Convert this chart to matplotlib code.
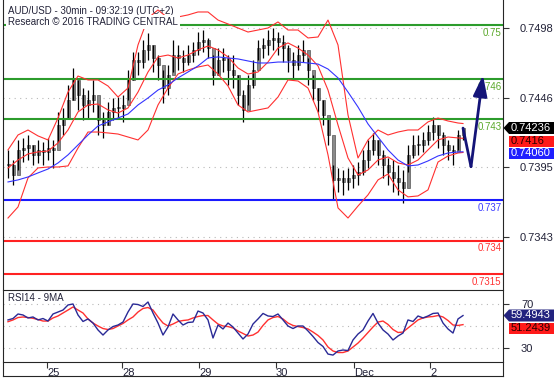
import numpy as np
import matplotlib
matplotlib.use('Agg')
import matplotlib.pyplot as plt
from matplotlib.lines import Line2D
from matplotlib.patches import Rectangle, Polygon
from matplotlib.transforms import blended_transform_factory

plt.rcParams['font.family'] = ['Liberation Sans', 'DejaVu Sans']

# --- price bars (30min AUD/USD, sampled) ---
highs = [0.74074, 0.73999, 0.74148, 0.74163, 0.74185, 0.74111, 0.74148, 0.74133, 0.74163, 0.74148,
         0.74356, 0.74386, 0.74557, 0.74683, 0.74594, 0.74534, 0.74519, 0.74594, 0.74408, 0.74356,
         0.74430, 0.74460, 0.74467, 0.74482, 0.74668, 0.74802, 0.74802, 0.74891, 0.74943, 0.74854,
         0.74779, 0.74668, 0.74705, 0.74891, 0.74854, 0.74817, 0.74854, 0.74876, 0.74950, 0.74965,
         0.74906, 0.74779, 0.74831, 0.74831, 0.74779, 0.74779, 0.74631, 0.74519, 0.74631, 0.74742,
         0.74891, 0.74906, 0.74965, 0.74980, 0.74950, 0.74928, 0.74854, 0.74802, 0.74854, 0.74891,
         0.74757, 0.74631, 0.74534, 0.74445, 0.74311, 0.73962, 0.73940, 0.73925, 0.73940, 0.73962,
         0.73984, 0.74074, 0.74148, 0.74200, 0.74148, 0.74074, 0.74014, 0.73999, 0.73962, 0.73925,
         0.74111, 0.74185, 0.74185, 0.74207, 0.74259, 0.74319, 0.74259, 0.74207, 0.74148, 0.74111,
         0.74222, 0.74244]
lows = [0.73866, 0.73814, 0.73925, 0.73984, 0.73999, 0.73962, 0.73977, 0.73962, 0.73999, 0.73940,
        0.74133, 0.74185, 0.74311, 0.74445, 0.74371, 0.74297, 0.74311, 0.74356, 0.74185, 0.74163,
        0.74259, 0.74297, 0.74311, 0.74282, 0.74445, 0.74594, 0.74631, 0.74683, 0.74742, 0.74653,
        0.74594, 0.74423, 0.74482, 0.74653, 0.74668, 0.74653, 0.74705, 0.74727, 0.74779, 0.74802,
        0.74757, 0.74557, 0.74631, 0.74653, 0.74557, 0.74534, 0.74408, 0.74282, 0.74408, 0.74534,
        0.74742, 0.74757, 0.74779, 0.74817, 0.74779, 0.74727, 0.74653, 0.74594, 0.74668, 0.74727,
        0.74557, 0.74445, 0.74356, 0.74259, 0.74111, 0.73702, 0.73762, 0.73739, 0.73777, 0.73791,
        0.73814, 0.73888, 0.73940, 0.74037, 0.73962, 0.73866, 0.73814, 0.73762, 0.73739, 0.73680,
        0.73910, 0.74014, 0.74037, 0.74059, 0.74111, 0.74148, 0.74088, 0.74037, 0.73999, 0.73962,
        0.74074, 0.74148]
closes = [0.73962, 0.73888, 0.74074, 0.74088, 0.74111, 0.74037, 0.74074, 0.74059, 0.74088, 0.74074,
          0.74259, 0.74311, 0.74445, 0.74594, 0.74482, 0.74408, 0.74445, 0.74482, 0.74297, 0.74259,
          0.74356, 0.74386, 0.74386, 0.74408, 0.74594, 0.74742, 0.74727, 0.74817, 0.74854, 0.74757,
          0.74705, 0.74534, 0.74631, 0.74779, 0.74757, 0.74727, 0.74779, 0.74817, 0.74876, 0.74891,
          0.74831, 0.74631, 0.74742, 0.74757, 0.74668, 0.74631, 0.74482, 0.74371, 0.74557, 0.74668,
          0.74831, 0.74854, 0.74891, 0.74906, 0.74876, 0.74831, 0.74742, 0.74705, 0.74779, 0.74817,
          0.74668, 0.74534, 0.74445, 0.74334, 0.74185, 0.73851, 0.73866, 0.73836, 0.73866, 0.73888,
          0.73910, 0.73999, 0.74074, 0.74148, 0.74037, 0.73962, 0.73910, 0.73866, 0.73836, 0.73791,
          0.74037, 0.74111, 0.74111, 0.74148, 0.74207, 0.74259, 0.74185, 0.74111, 0.74074, 0.74059,
          0.74185, 0.74236]

# --- indicators (read every 2 bars + last bar) ---
line_idx = list(range(0, 92, 2)) + [91]
bb_upper = [0.74074, 0.74185, 0.74222, 0.74178, 0.74148, 0.74311, 0.74504, 0.74623, 0.74594, 0.74594,
            0.74549, 0.74467, 0.74534, 0.74854, 0.75054, 0.75114, 0.75054, 0.75062, 0.75077, 0.75099,
            0.75099, 0.75039, 0.75010, 0.74980, 0.74950, 0.74965, 0.74980, 0.75025, 0.74965, 0.74965,
            0.74906, 0.74913, 0.75039, 0.74854, 0.74334, 0.74014, 0.74148, 0.74222, 0.74185, 0.74207,
            0.74222, 0.74222, 0.74282, 0.74311, 0.74289, 0.74274, 0.74270]
bb_lower = [0.73568, 0.73650, 0.73866, 0.73940, 0.73947, 0.73947, 0.73955, 0.74088, 0.74207, 0.74207,
            0.74200, 0.74192, 0.74170, 0.74148, 0.74222, 0.74408, 0.74534, 0.74638, 0.74668, 0.74690,
            0.74705, 0.74638, 0.74549, 0.74408, 0.74356, 0.74371, 0.74386, 0.74467, 0.74594, 0.74586,
            0.74534, 0.74356, 0.74037, 0.73643, 0.73568, 0.73657, 0.73740, 0.73851, 0.73895, 0.73777,
            0.73725, 0.73732, 0.73777, 0.73984, 0.74029, 0.74051, 0.74055]
bb_mid = [0.73940, 0.73999, 0.74044, 0.74059, 0.74066, 0.74126, 0.74222, 0.74356, 0.74408, 0.74415,
          0.74371, 0.74348, 0.74386, 0.74504, 0.74653, 0.74765, 0.74779, 0.74757, 0.74779, 0.74817,
          0.74846, 0.74817, 0.74765, 0.74683, 0.74638, 0.74653, 0.74727, 0.74831, 0.74869, 0.74831,
          0.74779, 0.74698, 0.74519, 0.74259, 0.74014, 0.73888, 0.73925, 0.73999, 0.74022, 0.73977,
          0.73962, 0.73999, 0.74074, 0.74148, 0.74170, 0.74163, 0.74160]
ma_long = [0.73836, 0.73851, 0.73873, 0.73903, 0.73932, 0.73977, 0.74037, 0.74111, 0.74185, 0.74252,
           0.74282, 0.74311, 0.74341, 0.74408, 0.74460, 0.74519, 0.74557, 0.74609, 0.74653, 0.74698,
           0.74757, 0.74765, 0.74757, 0.74750, 0.74735, 0.74720, 0.74720, 0.74727, 0.74727, 0.74727,
           0.74720, 0.74712, 0.74675, 0.74609, 0.74504, 0.74393, 0.74267, 0.74170, 0.74074, 0.73999,
           0.73955, 0.73962, 0.73992, 0.74029, 0.74051, 0.74059, 0.74060]

rsi = [55.5, 56.8, 60.9, 60.0, 57.3, 58.2, 55.5, 56.8, 54.5, 60.9,
       62.7, 64.5, 69.1, 70.0, 60.0, 54.1, 56.4, 52.7, 46.4, 41.8,
       46.4, 49.5, 50.9, 53.6, 62.7, 70.0, 69.5, 67.7, 71.8, 61.8,
       52.7, 41.8, 49.1, 60.9, 55.5, 50.9, 53.2, 53.6, 63.6, 61.8,
       55.5, 39.1, 50.9, 47.3, 52.7, 49.1, 43.6, 38.2, 42.7, 51.8,
       56.4, 61.4, 59.1, 58.6, 60.9, 55.5, 50.0, 47.7, 50.0, 50.0,
       45.5, 40.5, 35.0, 31.4, 24.5, 23.6, 27.3, 28.2, 27.7, 37.3,
       42.7, 46.4, 54.5, 61.4, 52.7, 46.4, 42.7, 37.3, 40.9, 43.6,
       55.5, 54.1, 59.1, 57.3, 59.1, 61.4, 61.8, 52.7, 47.3, 43.6,
       56.4, 59.4943]
rsi_ma = [53.9, 55.5, 57.7, 58.2, 57.7, 57.0, 55.9, 54.5, 54.5, 57.3,
          59.1, 61.8, 64.5, 67.3, 64.5, 61.8, 56.4, 52.7, 50.0, 47.7,
          46.8, 47.7, 50.0, 52.3, 55.5, 58.2, 62.7, 65.9, 66.8, 64.5,
          58.2, 52.7, 50.0, 51.8, 54.1, 55.0, 55.5, 57.3, 58.6, 59.5,
          59.5, 55.5, 51.8, 50.0, 49.5, 48.2, 45.5, 43.2, 40.9, 41.8,
          44.5, 50.5, 55.5, 57.7, 58.6, 56.4, 52.7, 50.5, 49.5, 48.6,
          47.3, 44.5, 41.4, 37.3, 30.9, 27.3, 25.9, 25.9, 27.3, 30.9,
          34.5, 39.1, 44.1, 49.1, 53.6, 54.5, 51.4, 46.8, 44.1, 44.5,
          48.2, 51.8, 55.5, 57.3, 58.2, 58.6, 59.5, 58.2, 55.0, 50.9,
          50.5, 51.2439]

# key levels
level_values = [0.75, 0.746, 0.743, 0.737, 0.734, 0.7315]
level_labels = ['0.75', '0.746', '0.743', '0.737', '0.734', '0.7315']
level_colors = ['#2c9c2c', '#2c9c2c', '#2c9c2c', '#1a1aff', '#ff2222', '#ff2222']
level_text_colors = ['#5aa82a', '#5aa82a', '#5aa82a', '#3b3bff', '#ff3333', '#ff3333']

# forecast path
forecast_x = [91, 92.6, 95.0]
forecast_y = [0.74236, 0.73950, 0.74630]

price_ticks = [0.7498, 0.7446, 0.7395, 0.7343]
day_ticks = [7.8, 22.8, 38.2, 53.6, 69.2, 84.4]
day_labels = ['25', '28', '29', '30', 'Dec', '2']

W, H = 557, 379
fig = plt.figure(figsize=(W / 100, H / 100), dpi=100)


def fx(px):
    return px / W


def fy(py):
    return 1 - py / H


ax = fig.add_axes([fx(3), fy(290), fx(503) - fx(3), fy(0) - fy(290)])
ax_rsi = fig.add_axes([fx(3), fy(362), fx(503) - fx(3), fy(290) - fy(362)])
for a in (ax, ax_rsi):
    a.set_facecolor('white')
    for s in a.spines.values():
        s.set_visible(False)
    a.set_xlim(-1, 99)

dot = (0, (1, 4))
txt_col = '#222238'

# price panel
ax.set_ylim(0.73033, 0.75188)
for v in price_ticks:
    ax.axhline(v, color='#b8b8b8', lw=0.8, ls=dot, zorder=1)

idx = np.arange(len(closes))
opens = np.r_[closes[0], closes[:-1]]
for i in idx:
    lo, hi = sorted((opens[i], closes[i]))
    ax.add_patch(Rectangle((i - 0.3, lo), 0.6, max(hi - lo, 0.00004),
                           fc='#8a8a8a', ec='#3a3a3a', lw=0.4, zorder=3))
ax.vlines(idx, lows, highs, color='black', lw=0.9, zorder=4)

ax.plot(line_idx, bb_upper, color='#ff3030', lw=0.8, zorder=5)
ax.plot(line_idx, bb_lower, color='#ff3030', lw=0.8, zorder=5)
ax.plot(line_idx, bb_mid, color='#ff3030', lw=0.8, zorder=5)
ax.plot(line_idx, ma_long, color='#3434ff', lw=0.8, zorder=5)

trans = blended_transform_factory(ax.transAxes, ax.transData)
for v, lab, c, tc in zip(level_values, level_labels, level_colors, level_text_colors):
    ax.axhline(v, color=c, lw=1.5, zorder=4.5)
    ax.annotate(lab, xy=(1.0, v), xycoords=trans, xytext=(-1, -2), textcoords='offset points',
                ha='right', va='top', fontsize=7, color=tc, zorder=6)

nav = '#141478'
ax.plot(forecast_x[:2], forecast_y[:2], color=nav, lw=2, zorder=7, solid_capstyle='round')
ax.annotate('', xy=(forecast_x[2], forecast_y[2]), xytext=(forecast_x[1], forecast_y[1]),
            arrowprops=dict(arrowstyle='-|>,head_length=0.9,head_width=0.3', color=nav, lw=2,
                            mutation_scale=14, shrinkA=0, shrinkB=0), zorder=7)

ax.set_xticks([])
ax.yaxis.tick_right()
ax.set_yticks(price_ticks)
ax.set_yticklabels([f'{v:.4f}' for v in price_ticks])
ax.tick_params(axis='y', direction='out', length=4, width=0.8, pad=8, labelsize=8,
               colors='#333333', labelcolor=txt_col)

# RSI panel
ax_rsi.set_ylim(17.3, 82.7)
for v in (30, 50, 70):
    ax_rsi.axhline(v, color='#b8b8b8', lw=0.8, ls=dot, zorder=1)
ax_rsi.plot(idx, rsi_ma, color='#ff3030', lw=1.0, zorder=3)
ax_rsi.plot(idx, rsi, color='#2a2a96', lw=1.0, zorder=4)
ax_rsi.yaxis.tick_right()
ax_rsi.set_yticks([30, 70])
ax_rsi.tick_params(axis='y', direction='out', length=4, width=0.8, pad=9, labelsize=8,
                   colors='#333333', labelcolor=txt_col)
ax_rsi.set_xticks(day_ticks)
ax_rsi.set_xticklabels(day_labels)
for lbl in ax_rsi.get_xticklabels():
    lbl.set_ha('left')
ax_rsi.tick_params(axis='x', direction='out', length=4, width=0.8, pad=0.5, labelsize=8,
                   colors='#333333', labelcolor=txt_col)

# frame
frame = [((3, 3), (0, 376)), ((3, 503), (376, 376)), ((503, 503), (0, 376)),
         ((3, 503), (290, 290)), ((3, 503), (362, 362))]
for xs, ys in frame:
    fig.add_artist(Line2D([fx(xs[0]), fx(xs[1])], [fy(ys[0]), fy(ys[1])],
                          transform=fig.transFigure, color='#262626', lw=0.8))

# headers
fig.text(fx(8), fy(11), 'AUD/USD - 30min - 09:32:19 (UTC+2)', va='center', fontsize=7, color=txt_col)
fig.text(fx(8), fy(22), 'Research \u00a9 2016 TRADING CENTRAL', va='center', fontsize=7, color=txt_col,
         bbox=dict(fc='white', ec='none', pad=1.2))
fig.text(fx(8), fy(298), 'RSI14 - 9MA', va='center', fontsize=7, color=txt_col)


# value tags on the right
def tag(y0, y1, fc, tc, text, arrow=False):
    ym = (y0 + y1) / 2
    if arrow:
        pts = [(503.5, ym), (509, y0), (554, y0), (554, y1), (509, y1)]
    else:
        pts = [(509, y0), (554, y0), (554, y1), (509, y1)]
    fig.add_artist(Polygon([(fx(a), fy(b)) for a, b in pts], closed=True,
                           transform=fig.transFigure, fc=fc, ec='none'))
    fig.text(fx(511), fy(ym), text, va='center', ha='left', fontsize=8, color=tc)


tag(122, 134, '#000000', 'white', f'{closes[-1]:.5f}', arrow=True)
tag(136, 147, '#ff1a1a', '#2a0000', f'{bb_mid[-1]:.4f}')
tag(148, 159, '#1f1fff', 'white', f'{ma_long[-1]:.5f}')
tag(309.5, 321.5, '#23237f', 'white', f'{rsi[-1]:.4f}', arrow=True)
tag(322.5, 333.5, '#ff1a1a', '#2a0000', f'{rsi_ma[-1]:.4f}')

fig.savefig('out.png', dpi=100)
